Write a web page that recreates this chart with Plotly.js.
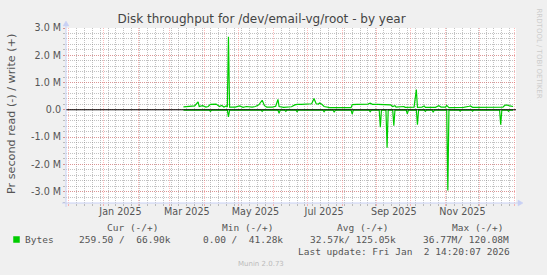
<!DOCTYPE html>
<html>
<head>
<meta charset="utf-8">
<script src="https://cdn.plot.ly/plotly-3.0.1.min.js"></script>
<style>html,body{margin:0;padding:0;background:#f0f0f0;}#chart{width:547px;height:275px;}</style>
</head>
<body>
<div id="chart"></div>
<script>
// ---- data ----
const rangeStart = '2024-11-28 14:20:07';
const rangeEnd = '2026-01-02 14:20:07';

const writeDates = ['2025-03-13','2025-03-18','2025-03-23','2025-03-26','2025-03-27','2025-03-30','2025-04-02','2025-04-04','2025-04-06','2025-04-11','2025-04-12','2025-04-14','2025-04-16','2025-04-18','2025-04-20','2025-04-21','2025-04-22','2025-04-23','2025-04-28','2025-05-02','2025-05-05','2025-05-08','2025-05-13','2025-05-16','2025-05-19','2025-05-22','2025-05-24','2025-05-26','2025-05-31','2025-06-03','2025-06-05','2025-06-06','2025-06-10','2025-06-14','2025-06-17','2025-06-20','2025-06-22','2025-06-26','2025-07-02','2025-07-05','2025-07-07','2025-07-09','2025-07-11','2025-07-12','2025-07-14','2025-07-16','2025-07-21','2025-07-27','2025-08-01','2025-08-06','2025-08-09','2025-08-10','2025-08-14','2025-08-19','2025-08-24','2025-08-26','2025-08-28','2025-09-02','2025-09-07','2025-09-10','2025-09-13','2025-09-15','2025-09-17','2025-09-18','2025-09-22','2025-09-25','2025-09-26','2025-10-01','2025-10-04','2025-10-06','2025-10-07','2025-10-11','2025-10-13','2025-10-14','2025-10-19','2025-10-23','2025-10-26','2025-10-28','2025-11-01','2025-11-02','2025-11-04','2025-11-07','2025-11-13','2025-11-17','2025-11-22','2025-11-23','2025-11-25','2025-11-30','2025-12-07','2025-12-11','2025-12-16','2025-12-19','2025-12-22','2025-12-24','2025-12-26','2025-12-28','2025-12-31'];
const writeValues = [110000,120000,140000,290000,120000,150000,100000,120000,200000,210000,180000,120000,160000,100000,140000,100000,2680000,100000,100000,140000,90000,120000,100000,120000,180000,350000,150000,100000,100000,130000,380000,120000,90000,110000,110000,180000,200000,200000,200000,220000,410000,220000,210000,250000,200000,120000,80000,90000,80000,80000,80000,190000,200000,200000,210000,240000,200000,200000,200000,190000,180000,120000,150000,100000,100000,120000,90000,100000,100000,740000,90000,100000,140000,90000,80000,90000,150000,100000,100000,160000,80000,80000,80000,90000,130000,140000,90000,90000,100000,100000,110000,110000,100000,170000,170000,140000,120000];

const readDates = ['2025-03-13','2025-03-26','2025-03-27','2025-03-28','2025-04-05','2025-04-06','2025-04-07','2025-04-21','2025-04-22','2025-04-23','2025-05-21','2025-05-22','2025-05-23','2025-06-05','2025-06-06','2025-06-07','2025-06-11','2025-06-12','2025-06-13','2025-06-21','2025-06-22','2025-06-23','2025-07-15','2025-07-16','2025-07-17','2025-07-24','2025-07-25','2025-07-26','2025-08-09','2025-08-10','2025-08-11','2025-08-25','2025-08-26','2025-08-27','2025-09-03','2025-09-04','2025-09-05','2025-09-09','2025-09-10','2025-09-11','2025-09-15','2025-09-16','2025-09-17','2025-09-27','2025-09-28','2025-09-29','2025-10-06','2025-10-07','2025-10-08','2025-10-13','2025-10-14','2025-10-15','2025-10-20','2025-10-21','2025-10-22','2025-11-02','2025-11-03','2025-11-04','2025-11-13','2025-11-14','2025-11-15','2025-11-24','2025-11-25','2025-11-26','2025-12-19','2025-12-20','2025-12-21','2025-12-26','2025-12-27','2025-12-28','2025-12-31'];
const readValues = [-10000,-10000,-30000,-10000,-10000,-60000,-10000,-10000,-260000,-10000,-10000,-60000,-10000,-10000,-130000,-10000,-10000,-60000,-10000,-10000,-70000,-10000,-10000,-70000,-10000,-10000,-90000,-10000,-10000,-160000,-10000,-10000,-70000,-10000,-10000,-640000,-10000,-10000,-1390000,-10000,-10000,-580000,-10000,-10000,-150000,-10000,-10000,-550000,-10000,-10000,-60000,-10000,-10000,-90000,-10000,-10000,-2960000,-10000,-10000,-50000,-10000,-10000,-50000,-10000,-10000,-550000,-10000,-10000,-60000,-10000,-10000];

const xLabelDates = ['2025-01-16','2025-03-16','2025-05-16','2025-07-16','2025-09-16','2025-11-16'];
const xLabelTexts = ['Jan 2025','Mar 2025','May 2025','Jul 2025','Sep 2025','Nov 2025'];
const yTickVals = [-3000000,-2000000,-1000000,0,1000000,2000000,3000000];
const yTickTexts = ['-3.0 M','-2.0 M','-1.0 M','0.0','1.0 M','2.0 M','3.0 M'];

const legendHeaders = ['Cur (-/+)','Min (-/+)','Avg (-/+)','Max (-/+)'];
const legendName = 'Bytes';
const legendValues = ['259.50 /  66.90k','0.00 /  41.28k','32.57k/ 125.05k','36.77M/ 120.08M'];
const lastUpdate = 'Last update: Fri Jan  2 14:20:07 2026';

// ---- layout helpers (pixel -> paper) ----
const L = 66, R = 516, T = 28, B = 203;
const PW = R - L, PH = B - T;
const px = x => (x - L) / PW;
const py = y => (B - y) / PH;
const nb = s => s.replace(/ /g, '\u00a0');

const green = '#00cc00';
const grey = '#555555';
const mono = {family: 'DejaVu Sans Mono', size: 9.5, color: grey};

const traces = [
  {x: writeDates, y: writeValues, type: 'scatter', mode: 'lines', line: {color: green, width: 1.2}, hoverinfo: 'skip'},
  {x: readDates, y: readValues, type: 'scatter', mode: 'lines', line: {color: green, width: 1.2}, hoverinfo: 'skip'},
  {x: [rangeStart], y: [0], xaxis: 'x2', yaxis: 'y', type: 'scatter', mode: 'lines', hoverinfo: 'skip'}
];

const headerX = [106.7, 221.7, 336.7, 451.7];
const valueX = [79.3, 203, 310, 422.7];
const annotations = [];
legendHeaders.forEach((h, i) => annotations.push({text: nb(h), x: px(headerX[i]), y: py(227.7)}));
annotations.push({text: legendName, x: px(25), y: py(239.7)});
legendValues.forEach((v, i) => annotations.push({text: nb(v), x: px(valueX[i]), y: py(239.7)}));
annotations.push({text: nb(lastUpdate), x: px(297.7), y: py(251)});
annotations.forEach(a => Object.assign(a, {xref: 'paper', yref: 'paper', xanchor: 'left', yanchor: 'middle', showarrow: false, font: mono, borderpad: 0, borderwidth: 0}));
annotations.push({text: 'Munin 2.0.73', xref: 'paper', yref: 'paper', x: px(260.7), y: py(264.3), xanchor: 'center', yanchor: 'middle', showarrow: false, font: {family: 'DejaVu Sans', size: 7, color: '#bbbbbb'}});
annotations.push({text: 'Pr second read (-) / write (+)', xref: 'paper', yref: 'paper', x: px(11), y: py(114), xanchor: 'center', yanchor: 'middle', textangle: -90, showarrow: false, font: {family: 'DejaVu Sans', size: 11.2, color: grey}});
annotations.push({text: 'RRDTOOL / TOBI OETIKER', xref: 'paper', yref: 'paper', x: px(538.5), y: py(53), xanchor: 'center', yanchor: 'middle', textangle: 90, showarrow: false, font: {family: 'DejaVu Sans', size: 7, color: '#cccccc'}});

const axisCol = '#c8d0f4';
const shapes = [
  // zero line
  {type: 'line', xref: 'paper', yref: 'y', x0: 0, x1: 1, y0: 0, y1: 0, line: {color: '#000000', width: 1}, layer: 'above'},
  // x axis with arrow
  {type: 'line', xref: 'paper', yref: 'paper', x0: px(62), x1: px(519), y0: 0, y1: 0, line: {color: axisCol, width: 1}, layer: 'above'},
  {type: 'path', xref: 'paper', yref: 'paper', path: `M ${px(518)} ${py(200)} L ${px(523)} ${py(203)} L ${px(518)} ${py(206)} Z`, fillcolor: axisCol, line: {color: axisCol, width: 0.5}, layer: 'above'},
  // y axis with arrow
  {type: 'line', xref: 'paper', yref: 'paper', x0: 0, x1: 0, y0: py(207), y1: py(25), line: {color: axisCol, width: 1}, layer: 'above'},
  {type: 'path', xref: 'paper', yref: 'paper', path: `M ${px(63)} ${py(26)} L ${px(66)} ${py(21)} L ${px(69)} ${py(26)} Z`, fillcolor: axisCol, line: {color: axisCol, width: 0.5}, layer: 'above'},
  // legend swatch
  {type: 'rect', xref: 'paper', yref: 'paper', x0: px(13.5), x1: px(19.5), y0: py(242.5), y1: py(236.5), fillcolor: green, line: {color: green, width: 0.5}}
];

const redGrid = 'rgba(255,90,90,0.42)';
const greyGrid = 'rgba(120,120,120,0.45)';

const layout = {
  width: 547, height: 275,
  margin: {l: L, r: 547 - R, t: T, b: 275 - B, pad: 0},
  paper_bgcolor: '#f0f0f0', plot_bgcolor: '#ffffff',
  showlegend: false,
  font: {family: 'DejaVu Sans', color: grey},
  title: {text: 'Disk throughput for /dev/email-vg/root - by year', x: 261.5 / 547, xref: 'container', xanchor: 'center', y: 1 - 19 / 275, yref: 'container', yanchor: 'middle', font: {family: 'DejaVu Sans', size: 12, color: '#444444'}},
  xaxis: {
    type: 'date', range: [rangeStart, rangeEnd], fixedrange: true,
    tickmode: 'linear', tick0: '2024-12-01', dtick: 'M1', showticklabels: false,
    showgrid: true, gridcolor: redGrid, griddash: '1px,1px', gridwidth: 1,
    ticks: 'outside', ticklen: 2, tickcolor: redGrid,
    minor: {tick0: '2024-12-29', dtick: 7 * 86400000, showgrid: true, gridcolor: greyGrid, griddash: '1px,1px', ticks: 'outside', ticklen: 2, tickcolor: greyGrid},
    zeroline: false, showline: false
  },
  xaxis2: {
    type: 'date', range: [rangeStart, rangeEnd], overlaying: 'x', anchor: 'y', side: 'bottom', fixedrange: true,
    tickmode: 'array', tickvals: xLabelDates, ticktext: xLabelTexts,
    showgrid: false, ticks: '', zeroline: false, showline: false, ticklabelstandoff: 1,
    tickfont: {family: 'DejaVu Sans', size: 9.6, color: grey}
  },
  yaxis: {
    range: [-3420000, 3000000], fixedrange: true,
    tickmode: 'array', tickvals: yTickVals, ticktext: yTickTexts,
    showgrid: true, gridcolor: redGrid, griddash: '1px,1px', gridwidth: 1,
    ticks: 'outside', ticklen: 2, tickcolor: redGrid,
    minor: {tick0: 0, dtick: 200000, showgrid: true, gridcolor: greyGrid, griddash: '1px,1px', ticks: 'outside', ticklen: 2, tickcolor: greyGrid},
    zeroline: false, showline: false,
    tickfont: {family: 'DejaVu Sans', size: 9.6, color: grey}
  },
  annotations: annotations,
  shapes: shapes
};

Plotly.newPlot('chart', traces, layout, {staticPlot: true, displayModeBar: false});
</script>
</body>
</html>
